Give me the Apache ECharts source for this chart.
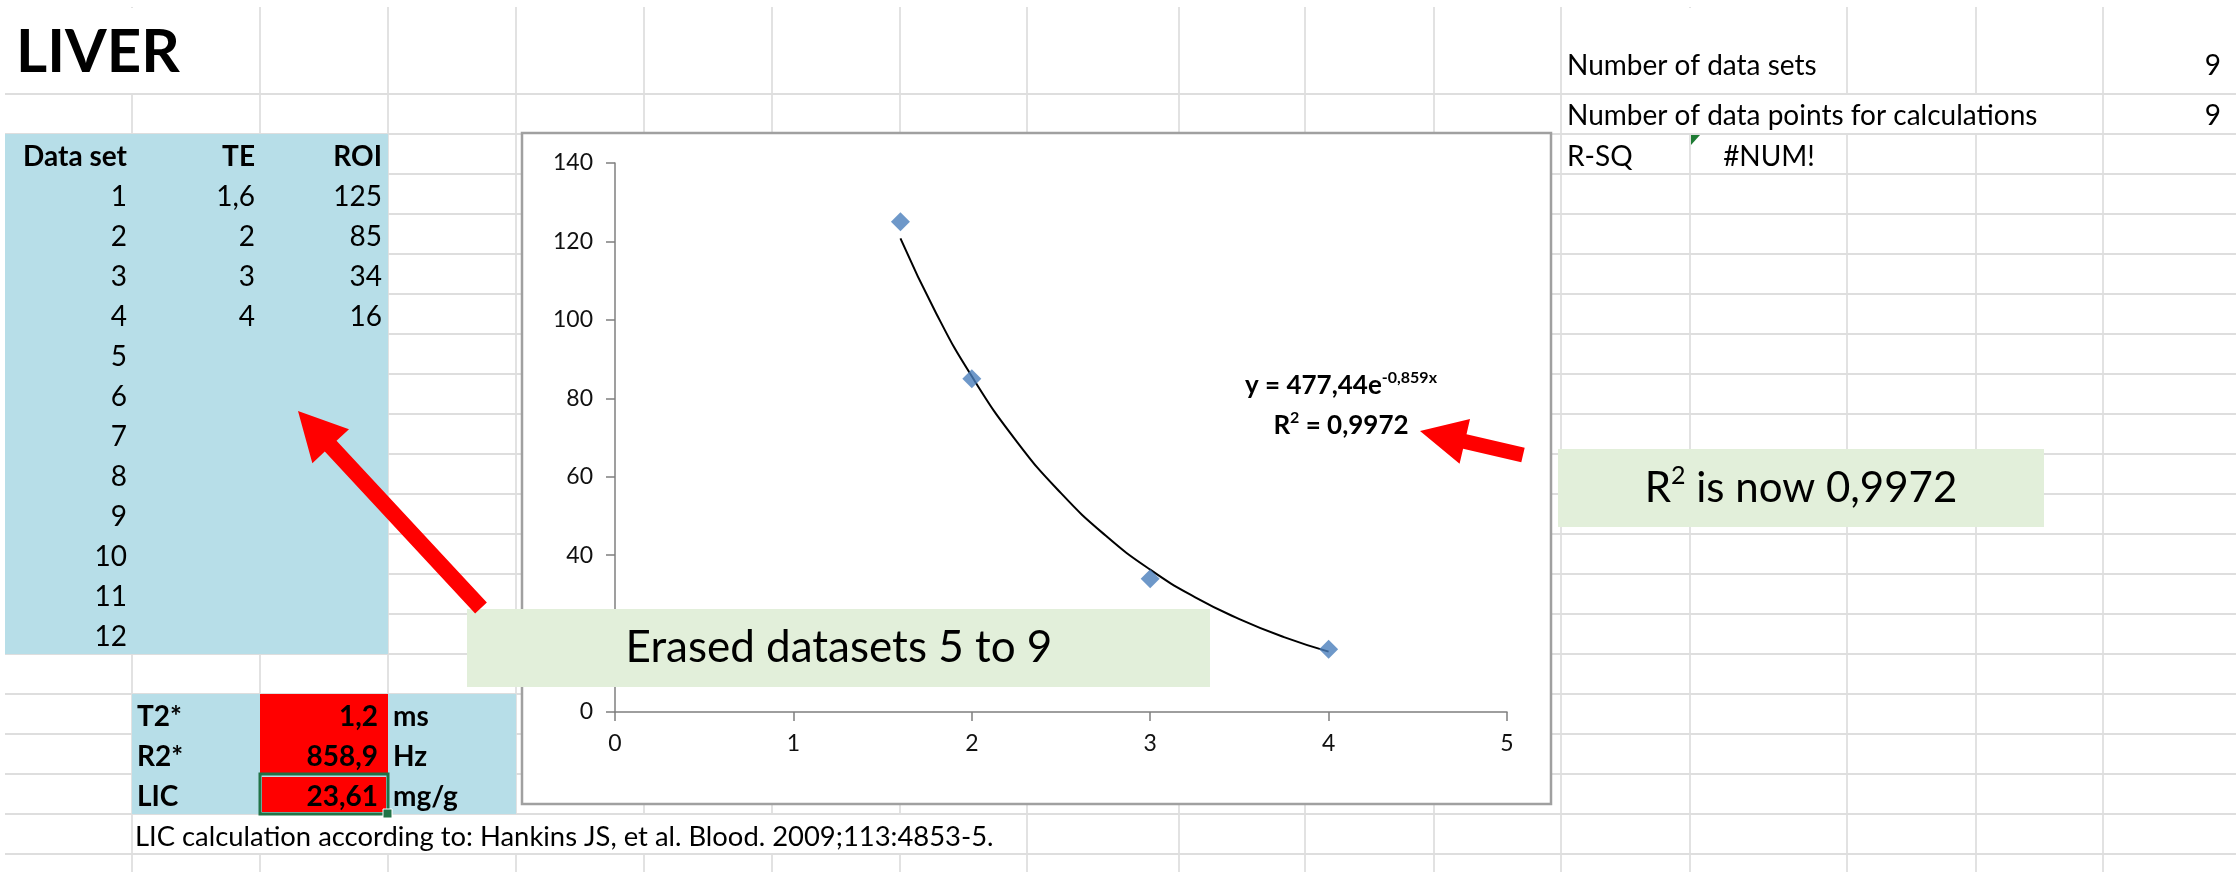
<!DOCTYPE html>
<html>
<head>
<meta charset="utf-8">
<title>LIVER</title>
<script src="https://cdn.jsdelivr.net/npm/echarts@6/dist/echarts.min.js"></script>
<style>
  html, body { margin: 0; padding: 0; background: #fff; }
  #main { width: 2236px; height: 872px; }
</style>
</head>
<body>
<div id="main"></div>
<script>
// values read from the sheet
var dataSetIds = [1, 2, 3, 4, 5, 6, 7, 8, 9, 10, 11, 12];
var teValues = [1.6, 2, 3, 4];
var roiValues = [125, 85, 34, 16];
// points
var trendX = [1.6, 1.8, 2, 2.25, 2.5, 2.75, 3, 3.25, 3.5, 3.75, 4];
var trendY = [120.8, 101.7, 85.6, 69.1, 55.8, 45.0, 36.3, 29.3, 23.7, 19.1, 15.4];
var resultLabels = ['T2*', 'R2*', 'LIC'];
var resultValues = [1.2, 858.9, 23.61];
var resultUnits = ['ms', 'Hz', 'mg/g'];
var infoLabels = ['Number of data sets', 'Number of data points for calculations', 'R-SQ'];
var infoValues = ['9', '9', '#NUM!'];

var FONT = 'Lato, "Open Sans", sans-serif';
var SHEET_PX = 28;

// sheet grid (columns / rows of the spreadsheet behind the chart)
var colX = [132, 260, 388, 516, 644, 772, 900, 1027, 1179, 1305, 1434, 1561, 1690, 1847, 1976, 2103];
var rowY = [];
for (var ry = 94; ry <= 854; ry += 40) rowY.push(ry);

function fmt(v) { return String(v).replace('.', ','); }

function rect(x1, y1, x2, y2, fill, z) {
  return { type: 'rect', z: z || 1, silent: true,
    shape: { x: x1, y: y1, width: x2 - x1, height: y2 - y1 },
    style: { fill: fill } };
}
function line(x1, y1, x2, y2, color, w) {
  return { type: 'line', z: 1, silent: true,
    shape: { x1: x1, y1: y1, x2: x2, y2: y2 },
    style: { stroke: color, lineWidth: w } };
}
function txt(s, x, y, align, opt) {
  opt = opt || {};
  return { type: 'text', z: opt.z || 2, silent: true, x: x, y: y,
    style: { text: s, font: (opt.bold ? 'bold ' : '') + (opt.size || SHEET_PX) + 'px ' + FONT,
      fill: opt.color || '#000', textAlign: align, textVerticalAlign: 'middle' } };
}
function arrow(x1, y1, x2, y2, sw, hw, hl) {
  var dx = x2 - x1, dy = y2 - y1, L = Math.sqrt(dx * dx + dy * dy);
  var ux = dx / L, uy = dy / L, px = -uy, py = ux;
  var bx = x2 - ux * hl, by = y2 - uy * hl;
  var pts = [
    [x1 + px * sw / 2, y1 + py * sw / 2],
    [bx + px * sw / 2, by + py * sw / 2],
    [bx + px * hw / 2, by + py * hw / 2],
    [x2, y2],
    [bx - px * hw / 2, by - py * hw / 2],
    [bx - px * sw / 2, by - py * sw / 2],
    [x1 - px * sw / 2, y1 - py * sw / 2]
  ];
  return { type: 'polygon', z: 22, silent: true, shape: { points: pts }, style: { fill: '#FF0000' } };
}

var els = [];
// grid lines
colX.forEach(function (x) { els.push(line(x, 7, x, 872, '#D9D9D9', 1.5)); });
rowY.forEach(function (y) { els.push(line(5, y, 2236, y, '#DEDEDE', 2)); });

// cells with overflow text hide the lines
els.push(rect(6, 8, 259, 93, '#fff'));
els.push(rect(1562, 8, 1846, 93, '#fff'));
els.push(rect(1562, 95, 2102, 133, '#fff'));
els.push(rect(133, 815, 1026, 853, '#fff'));

// blue data table
els.push(rect(5, 134, 388, 654, '#B7DEE8'));
els.push(rect(132, 694, 516, 814, '#B7DEE8'));
els.push(rect(260, 694, 388, 774, '#FF0000'));
els.push(rect(262, 777, 386, 812, '#FF0000'));

// title
els.push(txt('LIVER', 16, 53, 'left', { bold: true, size: 60 }));

// table header + rows
els.push(txt('Data set', 127, 157, 'right', { bold: true }));
els.push(txt('TE', 255, 157, 'right', { bold: true }));
els.push(txt('ROI', 382, 157, 'right', { bold: true }));
dataSetIds.forEach(function (id, i) {
  var cy = 197 + i * 40;
  els.push(txt(String(id), 127, cy, 'right'));
  if (i < teValues.length) {
    els.push(txt(fmt(teValues[i]), 255, cy, 'right'));
    els.push(txt(String(roiValues[i]), 382, cy, 'right'));
  }
});

// results block
resultLabels.forEach(function (lab, i) {
  var cy = 717 + i * 40;
  els.push(txt(lab, 137, cy, 'left', { bold: true }));
  els.push(txt(fmt(resultValues[i]), 378, cy, 'right', { bold: true }));
  els.push(txt(resultUnits[i], 393, cy, 'left', { bold: true }));
});
// selected cell frame
els.push({ type: 'rect', z: 3, silent: true, shape: { x: 260, y: 774, width: 128, height: 40 },
  style: { fill: 'none', stroke: '#217346', lineWidth: 3 } });
els.push({ type: 'rect', z: 4, silent: true, shape: { x: 383, y: 809, width: 9, height: 9 },
  style: { fill: '#217346', stroke: '#fff', lineWidth: 1 } });

els.push(txt('LIC calculation according to: Hankins JS, et al. Blood. 2009;113:4853-5.', 135, 837, 'left', { size: 27.4 }));

// info cells on the right
infoLabels.forEach(function (lab, i) {
  var cy = [66, 116, 157][i];
  els.push(txt(lab, 1567, cy, 'left'));
  if (i < 2) els.push(txt(infoValues[i], 2221, cy, 'right'));
  else els.push(txt(infoValues[i], 1769, cy, 'center'));
});
els.push({ type: 'polygon', z: 3, silent: true,
  shape: { points: [[1691, 135], [1700, 135], [1691, 145]] }, style: { fill: '#1E7B34' } });

// chart frame
els.push({ type: 'rect', z: 1, silent: true, shape: { x: 522, y: 133, width: 1029, height: 671 },
  style: { fill: '#fff', stroke: '#A0A0A0', lineWidth: 2.5 } });

// trendline label
var eqRich = {
  m: { fontSize: 26, fontWeight: 'bold', fontFamily: FONT, fill: '#000', lineHeight: 32 },
  s: { fontSize: 16, fontWeight: 'bold', fontFamily: FONT, fill: '#000', lineHeight: 16, verticalAlign: 'top' }
};
els.push({ type: 'text', z: 8, silent: true, x: 1341, y: 386,
  style: { text: '{m|y = 477,44e}{s|-0,859x}', font: 'bold 26px ' + FONT, fill: '#000',
    textAlign: 'center', textVerticalAlign: 'middle', rich: eqRich } });
els.push({ type: 'text', z: 8, silent: true, x: 1341, y: 426,
  style: { text: '{m|R}{s|2}{m| = 0,9972}', font: 'bold 26px ' + FONT, fill: '#000',
    textAlign: 'center', textVerticalAlign: 'middle', rich: eqRich } });

// callout boxes
els.push(rect(467, 609, 1210, 687, '#E2EFDA', 20));
els.push(txt('Erased datasets 5 to 9', 839, 648, 'center', { size: 44, z: 21 }));
els.push(rect(1558, 449, 2044, 527, '#E2EFDA', 20));
els.push({ type: 'text', z: 21, silent: true, x: 1801, y: 488,
  style: { text: '{m|R}{s|2}{m| is now 0,9972}', font: '42px ' + FONT, fill: '#000',
    textAlign: 'center', textVerticalAlign: 'middle',
    rich: {
      m: { fontSize: 42, fontFamily: FONT, fill: '#000', lineHeight: 50 },
      s: { fontSize: 25, fontFamily: FONT, fill: '#000', lineHeight: 27, verticalAlign: 'top' }
    } } });

// red arrows
els.push(arrow(481, 608, 298, 411, 16, 50, 48));
els.push(arrow(1523, 455, 1420, 431, 15, 46, 46));

var axisText = { fontSize: 23, fontFamily: FONT, color: '#111' };

var chart = echarts.init(document.getElementById('main'));
chart.setOption({
  animation: false,
  backgroundColor: '#fff',
  grid: { left: 615, top: 163, width: 892, height: 549 },
  xAxis: {
    type: 'value', min: 0, max: 5, interval: 1, z: 5,
    axisLine: { show: true, onZero: false, lineStyle: { color: '#7F7F7F', width: 1.5 } },
    axisTick: { show: true, inside: false, length: 9, lineStyle: { color: '#7F7F7F', width: 1.5 } },
    axisLabel: Object.assign({ margin: 20 }, axisText),
    splitLine: { show: false }
  },
  yAxis: {
    type: 'value', min: 0, max: 140, interval: 20, z: 5,
    axisLine: { show: true, onZero: false, lineStyle: { color: '#7F7F7F', width: 1.5 } },
    axisTick: { show: true, inside: false, length: 9, lineStyle: { color: '#7F7F7F', width: 1.5 } },
    axisLabel: Object.assign({ margin: 22 }, axisText),
    splitLine: { show: false }
  },
  series: [
    {
      name: 'trend', type: 'line', z: 6, silent: true,
      data: trendX.map(function (x, i) { return [x, trendY[i]]; }),
      smooth: true, showSymbol: false,
      lineStyle: { color: '#000', width: 2 }
    },
    {
      name: 'ROI', type: 'scatter', z: 7,
      data: teValues.map(function (x, i) { return [x, roiValues[i]]; }),
      symbol: 'diamond', symbolSize: 19,
      itemStyle: { color: '#4A7EBB' }
    }
  ],
  graphic: { elements: els }
});
</script>
</body>
</html>
